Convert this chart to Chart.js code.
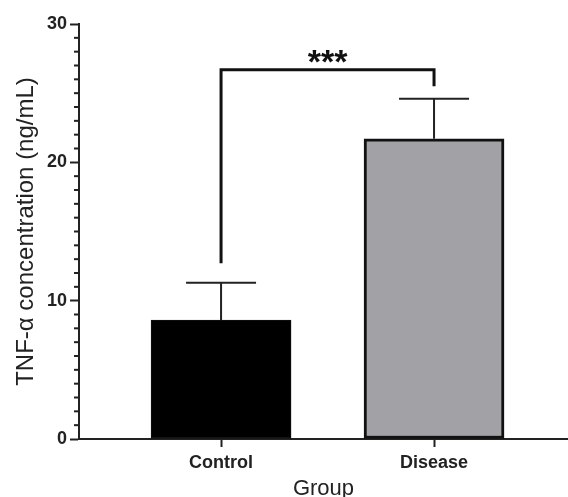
<!DOCTYPE html>
<html>
<head>
<meta charset="utf-8">
<script src="https://cdn.jsdelivr.net/npm/chart.js@4"></script>
<style>
  html, body { margin: 0; padding: 0; background: #fff; }
  canvas { display: block; }
</style>
</head>
<body>
<canvas id="tnf-chart" width="568" height="497"></canvas>
<script>
// values
const groups = ['Control', 'Disease'];
const means = [8.6, 21.7];
const sems = [2.7, 2.9];
const barColors = ['#000000', '#a2a2a6'];
const yMajorTicks = [0, 10, 20, 30];
const sigLabel = '***';
const bracketTop = 26.7;
const bracketLegs = [12.7, 25.5];

(function(){

    const ctx = document.getElementById('tnf-chart');
    const font = "'Liberation Sans', Arial, sans-serif";

    // error bars, minor ticks and the significance bracket
    const extras = {
        id: 'extras',
        afterDatasetsDraw(chart){
            const c = chart.ctx;
            const x = chart.scales.x;
            const y = chart.scales.y;

            c.save();
            c.strokeStyle = '#222';
            c.lineWidth = 2;
            groups.forEach((g, i) => {
                const px = x.getPixelForValue(i);
                const top = y.getPixelForValue(means[i] + sems[i]);
                c.beginPath();
                c.moveTo(px, y.getPixelForValue(means[i]));
                c.lineTo(px, top);
                c.moveTo(px - 35, top);
                c.lineTo(px + 35, top);
                c.stroke();
            });

            // minor ticks every 1 unit
            for(let v = y.min; v <= y.max; v++){
                if(yMajorTicks.includes(v)) continue;
                const py = y.getPixelForValue(v);
                c.beginPath();
                c.moveTo(x.left - 5, py);
                c.lineTo(x.left, py);
                c.stroke();
            }

            // bracket
            const x0 = x.getPixelForValue(0);
            const x1 = x.getPixelForValue(1);
            const by = y.getPixelForValue(bracketTop);
            c.strokeStyle = '#111';
            c.lineWidth = 3;
            c.beginPath();
            c.moveTo(x0, y.getPixelForValue(bracketLegs[0]));
            c.lineTo(x0, by);
            c.lineTo(x1, by);
            c.lineTo(x1, y.getPixelForValue(bracketLegs[1]));
            c.stroke();

            c.fillStyle = '#111';
            c.font = 'bold 34px ' + font;
            c.textAlign = 'center';
            c.textBaseline = 'middle';
            c.fillText(sigLabel, (x0 + x1) / 2, by - 6);
            c.restore();
        }
    };

    new Chart(ctx, {
        type: 'bar',
        data: {
            datasets: [{
                data: means.map((m, i) => ({x: i, y: m})),
                backgroundColor: barColors,
                borderColor: '#111',
                borderWidth: [1, 3],
                borderSkipped: false,
                barThickness: 140
            }]
        },
        options: {
            responsive: false,
            animation: false,
            devicePixelRatio: 1,
            layout: {
                padding: {top: 24, right: 0, left: 0, bottom: 0}
            },
            plugins: {
                legend: {display: false},
                tooltip: {enabled: false}
            },
            scales: {
                x: {
                    type: 'linear',
                    offset: false,
                    min: -0.667,
                    max: 1.629,
                    afterBuildTicks: scale => {
                        scale.ticks = groups.map((g, i) => ({value: i}));
                    },
                    afterFit: scale => { scale.height = 58; },
                    grid: {
                        offset: false,
                        drawOnChartArea: false,
                        tickLength: 8,
                        tickColor: '#222',
                        tickWidth: 2
                    },
                    border: {color: '#222', width: 2},
                    ticks: {
                        padding: 5,
                        color: '#222',
                        font: {family: font, size: 18, weight: 'bold'},
                        callback: v => groups[v]
                    },
                    title: {
                        display: true,
                        text: 'Group',
                        color: '#222',
                        font: {family: font, size: 22},
                        padding: {top: 0, bottom: -5}
                    }
                },
                y: {
                    min: 0,
                    max: 30,
                    afterFit: scale => { scale.width = 79; },
                    grid: {
                        drawOnChartArea: false,
                        tickLength: 9,
                        tickColor: '#222',
                        tickWidth: 2
                    },
                    border: {color: '#222', width: 2},
                    ticks: {
                        stepSize: 10,
                        padding: 3,
                        color: '#222',
                        font: {family: font, size: 18, weight: 'bold'}
                    },
                    title: {
                        display: true,
                        text: 'TNF-α concentration (ng/mL)',
                        color: '#222',
                        font: {family: font, size: 24},
                        padding: {top: 12, bottom: 0}
                    }
                }
            }
        },
        plugins: [extras]
    });
})();
</script>
</body>
</html>
